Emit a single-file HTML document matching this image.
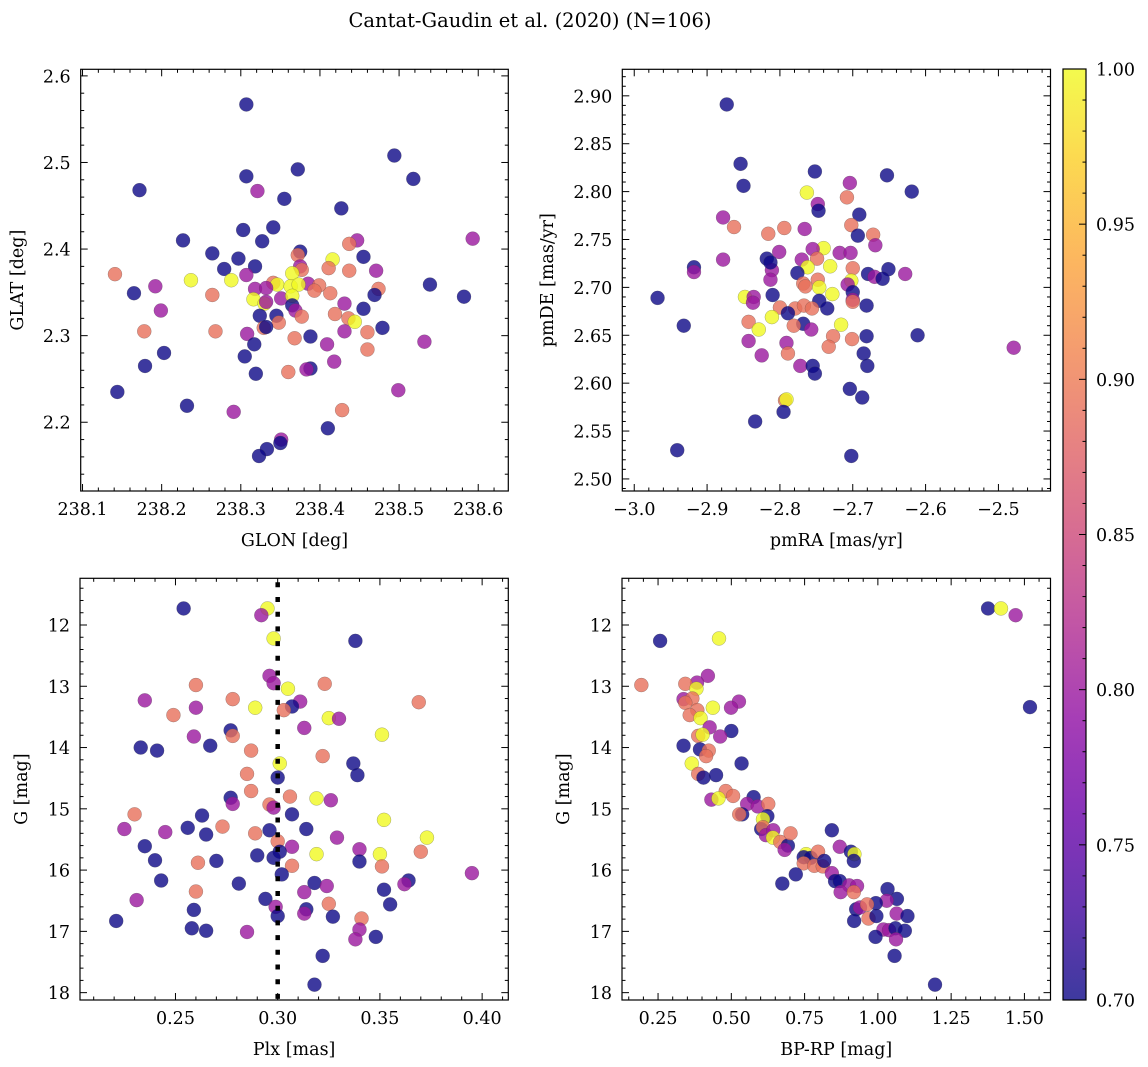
<!DOCTYPE html>
<html><head><meta charset="utf-8"><style>
html,body{margin:0;padding:0;background:#fff;}
svg{display:block;font-family:"DejaVu Serif","Liberation Serif",serif;}
</style></head><body>
<svg id="fig" width="1148" height="1067" viewBox="0 0 1148 1067" xmlns="http://www.w3.org/2000/svg">
<rect width="1148" height="1067" fill="#fff"/>
<text x="530" y="27" font-size="19.5" text-anchor="middle">Cantat-Gaudin et al. (2020) (N=106)</text>
<defs><linearGradient id="cbgrad" x1="0" y1="1" x2="0" y2="0"></linearGradient></defs>
<g id="layer"></g>
</svg>
<script>
// ---- data: top-left (GLON vs GLAT)
const tlGlon=[238.307,238.494,238.518,238.372,238.307,238.172,238.321,238.355,238.427,238.341,
238.303,238.227,238.327,238.447,238.593,238.437,238.264,238.375,238.297,238.372,
238.455,238.416,238.279,238.318,238.141,238.307,238.411,238.437,238.471,238.375,
238.377,238.365,238.237,238.288,238.192,238.165,238.341,238.346,238.385,238.399,
238.393,238.413,238.474,238.469,238.539,238.582,238.264,238.318,238.332,238.351,
238.363,238.373,238.365,238.316,238.330,238.199,238.332,238.365,238.369,238.431,
238.455,238.324,238.345,238.377,238.419,238.436,238.444,238.348,238.329,238.332,
238.178,238.268,238.308,238.431,238.460,238.479,238.532,238.317,238.368,238.388,
238.409,238.203,238.305,238.460,238.179,238.418,238.319,238.360,238.388,238.383,
238.144,238.499,238.232,238.291,238.428,238.410,238.351,238.350,238.333,238.323];
const tlGlat=[2.567,2.508,2.481,2.492,2.484,2.468,2.467,2.458,2.447,2.425,
2.422,2.410,2.409,2.410,2.412,2.406,2.395,2.397,2.389,2.393,
2.391,2.388,2.377,2.380,2.371,2.370,2.378,2.375,2.375,2.380,
2.376,2.372,2.364,2.364,2.357,2.349,2.361,2.359,2.360,2.358,
2.352,2.349,2.354,2.347,2.359,2.345,2.347,2.354,2.355,2.343,
2.357,2.359,2.346,2.342,2.337,2.329,2.339,2.335,2.329,2.337,
2.331,2.323,2.323,2.322,2.325,2.320,2.316,2.315,2.309,2.310,
2.305,2.305,2.302,2.305,2.304,2.309,2.293,2.290,2.297,2.299,
2.290,2.280,2.276,2.284,2.265,2.270,2.256,2.258,2.262,2.261,
2.235,2.237,2.219,2.212,2.214,2.193,2.180,2.176,2.169,2.161];
const tlProb=[.7,.7,.7,.7,.7,.7,.8,.7,.7,.7,
.7,.7,.7,.8,.8,.89,.7,.7,.7,.89,
.7,1,.7,.7,.89,.8,.89,.89,.8,.8,
.89,1,1,1,.8,.7,.89,1,.8,.89,
.89,.89,.89,.7,.7,.7,.89,.8,.8,.8,
1,1,1,1,1,.8,.8,.7,.8,.8,
.7,.7,.7,.89,.89,.89,1,.89,.89,.7,
.89,.89,.8,.8,.89,.7,.8,.7,.89,.7,
.8,.7,.7,.89,.7,.8,.7,.89,.7,.8,
.7,.8,.7,.8,.89,.7,.8,.7,.7,.7];
// ---- data: top-right (pmRA vs pmDE)
const trPmra=[-2.873,-2.854,-2.850,-2.752,-2.653,-2.619,-2.763,-2.704,-2.708,-2.748,
-2.747,-2.878,-2.691,-2.863,-2.794,-2.766,-2.816,-2.702,-2.672,-2.693,
-2.669,-2.740,-2.801,-2.755,-2.718,-2.703,-2.818,-2.878,-2.770,-2.749,
-2.731,-2.762,-2.918,-2.918,-2.811,-2.700,-2.813,-2.651,-2.679,-2.670,
-2.659,-2.628,-2.813,-2.776,-2.748,-2.768,-2.765,-2.702,-2.707,-2.968,
-2.848,-2.836,-2.837,-2.810,-2.746,-2.728,-2.700,-2.700,-2.700,-2.746,
-2.735,-2.800,-2.779,-2.767,-2.756,-2.681,-2.789,-2.811,-2.768,-2.716,
-2.843,-2.829,-2.781,-2.757,-2.727,-2.701,-2.681,-2.611,-2.843,-2.791,
-2.733,-2.932,-2.825,-2.789,-2.685,-2.772,-2.755,-2.680,-2.752,-2.479,
-2.704,-2.687,-2.793,-2.791,-2.795,-2.834,-2.941,-2.702];
const trPmde=[2.891,2.829,2.806,2.821,2.817,2.800,2.799,2.809,2.794,2.787,
2.780,2.773,2.776,2.763,2.762,2.761,2.756,2.765,2.755,2.754,
2.744,2.741,2.737,2.740,2.736,2.736,2.730,2.729,2.729,2.730,
2.722,2.721,2.721,2.716,2.718,2.720,2.726,2.719,2.714,2.711,
2.709,2.714,2.708,2.715,2.708,2.704,2.701,2.707,2.703,2.689,
2.690,2.690,2.684,2.692,2.700,2.693,2.695,2.687,2.685,2.686,
2.678,2.679,2.678,2.681,2.678,2.681,2.673,2.669,2.662,2.661,
2.664,2.656,2.660,2.656,2.649,2.646,2.649,2.650,2.644,2.642,
2.638,2.660,2.629,2.631,2.631,2.618,2.618,2.618,2.610,2.637,
2.594,2.585,2.582,2.583,2.570,2.560,2.530,2.524];
const trProb=[.7,.7,.7,.7,.7,.7,1,.8,.89,.8,
.7,.8,.7,.89,.89,.8,.89,.89,.89,.7,
.8,1,.8,.8,.8,.8,.7,.8,.8,.89,
1,1,.7,.8,.8,.89,.7,.7,.7,.8,
.7,.8,.8,.7,.89,.89,.89,1,.8,.7,
1,.8,.8,.7,1,1,.7,.8,.89,.7,
.7,.89,.89,.89,.89,.7,.7,1,.7,1,
.89,1,.89,.8,.89,.89,.7,.7,.8,.8,
.89,.7,.8,.89,.7,.8,.7,.7,.7,.8,
.7,.7,.89,1,.7,.7,.7,.7];
// ---- data: bottom-left (Plx vs G)
const blPlx=[0.254,0.295,0.292,0.298,0.338,0.296,0.298,0.260,0.323,0.305,
0.235,0.278,0.311,0.369,0.289,0.307,0.260,0.303,0.249,0.325,
0.330,0.313,0.277,0.278,0.259,0.351,0.233,0.267,0.241,0.287,
0.322,0.337,0.301,0.285,0.339,0.300,0.287,0.306,0.277,0.319,
0.326,0.278,0.296,0.298,0.230,0.263,0.307,0.352,0.225,0.256,
0.273,0.314,0.245,0.265,0.289,0.296,0.373,0.329,0.300,0.235,
0.307,0.301,0.370,0.340,0.319,0.350,0.290,0.298,0.240,0.270,
0.261,0.340,0.307,0.351,0.395,0.302,0.243,0.364,0.362,0.281,
0.318,0.324,0.260,0.352,0.313,0.231,0.294,0.355,0.325,0.299,
0.259,0.314,0.313,0.341,0.300,0.327,0.221,0.258,0.265,0.340,
0.285,0.348,0.338,0.322,0.318];
const blG=[11.73,11.73,11.84,12.22,12.26,12.83,12.95,12.98,12.96,13.04,
13.23,13.21,13.25,13.26,13.35,13.33,13.35,13.39,13.47,13.52,
13.53,13.68,13.72,13.81,13.82,13.79,14.00,13.97,14.05,14.05,
14.14,14.26,14.26,14.43,14.45,14.49,14.71,14.80,14.82,14.83,
14.86,14.92,14.93,14.98,15.09,15.11,15.09,15.18,15.33,15.31,
15.29,15.33,15.38,15.42,15.40,15.35,15.47,15.47,15.53,15.61,
15.62,15.70,15.70,15.66,15.74,15.74,15.76,15.80,15.84,15.85,
15.88,15.86,15.93,15.94,16.05,16.07,16.17,16.17,16.23,16.22,
16.21,16.26,16.35,16.32,16.36,16.49,16.47,16.56,16.55,16.60,
16.65,16.64,16.71,16.79,16.75,16.76,16.83,16.95,16.99,16.97,
17.01,17.09,17.13,17.40,17.87];
const blProb=[.7,1,.8,1,.7,.8,.8,.89,.89,1,
.8,.89,.8,.89,1,.7,.8,.89,.89,1,
.8,.8,.7,.89,.8,1,.7,.7,.7,.89,
.89,.7,1,.89,.7,.7,.89,.89,.7,1,
.8,.8,.89,.8,.89,.7,.7,1,.8,.7,
.89,.7,.8,.7,.89,.7,1,.8,.89,.7,
.8,.7,.89,.8,1,1,.7,.7,.7,.7,
.89,.7,.89,.89,.8,.7,.7,.7,.8,.7,
.7,.8,.89,.7,.8,.8,.7,.7,.89,.8,
.7,.7,.8,.89,.7,.7,.7,.7,.7,.8,
.8,.7,.8,.7,.7];
const plxRef=[0.30];
// ---- data: bottom-right (BP-RP vs G)
const brBpRp=[1.376,1.420,1.470,0.257,0.458,0.193,0.420,0.383,0.343,0.381,
1.519,0.337,0.367,0.343,0.526,0.499,0.437,0.384,0.358,0.395,
0.426,0.500,0.462,0.387,0.402,0.337,0.393,0.423,0.414,0.535,
0.365,0.387,0.405,0.448,0.481,0.506,0.576,0.432,0.456,0.554,
0.590,0.626,0.537,0.527,0.623,0.608,0.602,0.608,0.618,0.643,
0.642,0.667,0.693,0.682,0.702,0.843,0.870,0.908,0.920,0.918,
0.755,0.747,0.771,0.796,0.747,0.783,0.812,0.817,0.720,0.674,
0.843,0.854,0.870,0.902,0.929,0.873,0.918,1.033,1.065,1.030,
0.993,0.926,0.939,0.963,0.968,0.995,1.064,1.101,0.919,1.019,
1.038,1.060,1.092,0.992,1.062,1.057,1.195];
const brG=[11.73,11.73,11.84,12.26,12.22,12.98,12.83,12.94,12.96,13.04,
13.34,13.21,13.20,13.27,13.25,13.35,13.35,13.39,13.47,13.52,
13.67,13.73,13.82,13.81,13.79,13.97,14.03,14.05,14.14,14.26,
14.26,14.43,14.49,14.45,14.71,14.79,14.81,14.85,14.83,14.92,
14.96,14.92,15.09,15.09,15.12,15.17,15.33,15.30,15.43,15.35,
15.47,15.54,15.60,15.67,15.40,15.35,15.62,15.70,15.74,15.85,
15.74,15.79,15.80,15.70,15.89,15.93,15.94,15.85,16.07,16.22,
16.05,16.18,16.18,16.25,16.26,16.36,16.36,16.31,16.47,16.50,
16.54,16.64,16.61,16.56,16.79,16.75,16.71,16.75,16.83,16.97,
16.98,16.95,16.99,17.09,17.13,17.40,17.87];
const brProb=[.7,1,.8,.7,1,.89,.8,.8,.89,1,
.7,.8,.89,.89,.8,.8,1,.89,.89,1,
.8,.7,.8,.89,1,.7,.7,.89,.89,.7,
1,.89,.7,.7,.89,.89,.7,.8,1,.8,
.8,.89,.7,.89,.7,1,.7,.89,.8,.8,
1,.89,.7,.8,.89,.7,.8,.7,1,.7,
1,.7,.7,.89,.89,.89,.89,.7,.7,.7,
.8,.7,.7,.8,.8,.8,.89,.7,.7,.8,
.7,.7,.8,.89,.89,.7,.8,.7,.7,.8,
.8,.7,.7,.7,.8,.7,.7];
// ---- colorbar ticks
const cbTicks=[0.70,0.75,0.80,0.85,0.90,0.95,1.00];

const NS="http://www.w3.org/2000/svg";
const layer=document.getElementById('layer');
const FS=17.5;
function el(tag,attrs,parent){const e=document.createElementNS(NS,tag);for(const k in attrs)e.setAttribute(k,attrs[k]);(parent||layer).appendChild(e);return e;}
const plasma=[[13,8,135],[65,4,157],[106,0,168],[143,13,164],[177,42,144],[204,71,120],[225,100,98],[242,132,75],[252,166,54],[252,206,37],[240,249,33]];
function cmap(v){let t=(v-0.7)/0.3;t=Math.max(0,Math.min(1,t));const f=t*10,i=Math.min(9,Math.floor(f)),r=f-i;const a=plasma[i],b=plasma[i+1];
const c=[0,1,2].map(k=>a[k]+(b[k]-a[k])*r);return 'rgb('+c.map(x=>Math.round(x)).join(',')+')';}
function fmt(v,d){const s=Math.abs(v).toFixed(d);return (v<-1e-9?'\u2212':'')+s;}

function makeAxes(cfg){
  const g=el('g',{});
  
  
  const X=v=>cfg.x0+(v-cfg.xmin)/(cfg.xmax-cfg.xmin)*(cfg.x1-cfg.x0);
  const Y=v=>cfg.y0+(v-cfg.ytop)/(cfg.ybot-cfg.ytop)*(cfg.y1-cfg.y0);
  const tk=el('g',{stroke:'#000','stroke-width':1},g);
  
  
  const lo=Math.min(cfg.xmin,cfg.xmax),hi=Math.max(cfg.xmin,cfg.xmax);
  for(let k=Math.ceil(lo/cfg.xminor-1e-6);k*cfg.xminor<=hi+1e-9;k++){const v=k*cfg.xminor;const px=X(v);
    const major=Math.abs(v/cfg.xmajor-Math.round(v/cfg.xmajor))<1e-6;const L=major?7:3.5;
    el('line',{x1:px,x2:px,y1:cfg.y1,y2:cfg.y1-L},tk);el('line',{x1:px,x2:px,y1:cfg.y0,y2:cfg.y0+L},tk);
    if(major){const t=el('text',{x:px,y:cfg.y1+24,'font-size':FS,'text-anchor':'middle',stroke:'none'},g);t.textContent=fmt(v,cfg.xdec);
      
      }
  }
  const ylo=Math.min(cfg.ytop,cfg.ybot),yhi=Math.max(cfg.ytop,cfg.ybot);
  for(let k=Math.ceil(ylo/cfg.yminor-1e-6);k*cfg.yminor<=yhi+1e-9;k++){const v=k*cfg.yminor;const py=Y(v);
    const major=Math.abs(v/cfg.ymajor-Math.round(v/cfg.ymajor))<1e-6;const L=major?7:3.5;
    el('line',{x1:cfg.x0,x2:cfg.x0+L,y1:py,y2:py},tk);el('line',{x1:cfg.x1,x2:cfg.x1-L,y1:py,y2:py},tk);
    if(major){const t=el('text',{x:cfg.x0-10,y:py+6.5,'font-size':FS,'text-anchor':'end',stroke:'none'},g);t.textContent=fmt(v,cfg.ydec);
      
      }
  }
  const pts=el('g',{},g);
  
  
  for(let i=0;i<cfg.xs.length;i++){
    const c=el('circle',{cx:X(cfg.xs[i]),cy:Y(cfg.ys[i]),r:7,fill:cmap(cfg.cs[i]),'fill-opacity':0.8,stroke:'#444','stroke-opacity':0.45,'stroke-width':0.5},pts);
    
    
  }
  if(cfg.vline){for(const v of cfg.vline){const ln=el('line',{x1:X(v),x2:X(v),y1:cfg.y0+4,y2:cfg.y1,stroke:'#000','stroke-width':4.5,'stroke-dasharray':'5 9.7'},g);
    
    }}
  const fr=el('rect',{x:cfg.x0,y:cfg.y0,width:cfg.x1-cfg.x0,height:cfg.y1-cfg.y0,fill:'none',stroke:'#000','stroke-width':1.2},g);
  
  
  const xl=el('text',{x:(cfg.x0+cfg.x1)/2,y:cfg.y1+55,'font-size':FS,'text-anchor':'middle'},g);xl.textContent=cfg.xlabel;
  
  
  const yx=cfg.ylabx,yy=(cfg.y0+cfg.y1)/2;
  const yl=el('text',{x:yx,y:yy,'font-size':FS,'text-anchor':'middle',transform:'rotate(-90 '+yx+' '+yy+')'},g);yl.textContent=cfg.ylabel;
  
  
}

makeAxes({name:'glon-glat-panel',x0:80.7,x1:508.3,y0:69.3,y1:491,xmin:238.0977,xmax:238.638,ytop:2.6076,ybot:2.1206,
  xmajor:0.1,xminor:0.02,ymajor:0.1,yminor:0.02,xdec:1,ydec:1,xs:tlGlon,ys:tlGlat,cs:tlProb,xlabel:'GLON [deg]',ylabel:'GLAT [deg]',ylabx:23});
makeAxes({name:'pm-panel',x0:622.3,x1:1050.5,y0:69.3,y1:491,xmin:-3.0164,xmax:-2.4285,ytop:2.9277,ybot:2.4874,
  xmajor:0.1,xminor:0.02,ymajor:0.05,yminor:0.01,xdec:1,ydec:2,xs:trPmra,ys:trPmde,cs:trProb,xlabel:'pmRA [mas/yr]',ylabel:'pmDE [mas/yr]',ylabx:553});
makeAxes({name:'plx-g-panel',x0:80,x1:508.3,y0:578.3,y1:1000,xmin:0.2033,xmax:0.4128,ytop:11.238,ybot:18.12,
  xmajor:0.05,xminor:0.01,ymajor:1,yminor:0.2,xdec:2,ydec:0,xs:blPlx,ys:blG,cs:blProb,xlabel:'Plx [mas]',ylabel:'G [mag]',ylabx:27,vline:plxRef});
makeAxes({name:'cmd-panel',x0:622,x1:1050.5,y0:578.3,y1:1000,xmin:0.127,xmax:1.589,ytop:11.238,ybot:18.12,
  xmajor:0.25,xminor:0.05,ymajor:1,yminor:0.2,xdec:2,ydec:0,xs:brBpRp,ys:brG,cs:brProb,xlabel:'BP-RP [mag]',ylabel:'G [mag]',ylabx:569});

const grad=document.getElementById('cbgrad');
for(let i=0;i<=20;i++){const v=0.7+0.3*i/20;const s=document.createElementNS(NS,'stop');s.setAttribute('offset',(i/20));s.setAttribute('stop-color',cmap(v));s.setAttribute('stop-opacity',0.8);grad.appendChild(s);}
const cb=el('g',{});


const cbx0=1063,cbx1=1086,cby0=69,cby1=1000;
const CY=v=>cby1-(v-0.7)/0.3*(cby1-cby0);
el('rect',{x:cbx0,y:cby0,width:cbx1-cbx0,height:cby1-cby0,fill:'url(#cbgrad)'},cb);
for(let k=70;k<=100;k++){const v=k/100;const major=k%5===0;el('line',{x1:cbx1,x2:cbx1-(major?7:3.5),y1:CY(v),y2:CY(v),stroke:'#000','stroke-width':1},cb);}
for(const v of cbTicks){const t=el('text',{x:1096,y:CY(v)+6.5,'font-size':FS},cb);t.textContent=v.toFixed(2);
  
  }
el('rect',{x:cbx0,y:cby0,width:cbx1-cbx0,height:cby1-cby0,fill:'none',stroke:'#000','stroke-width':1.2},cb);
</script>
</body></html>
